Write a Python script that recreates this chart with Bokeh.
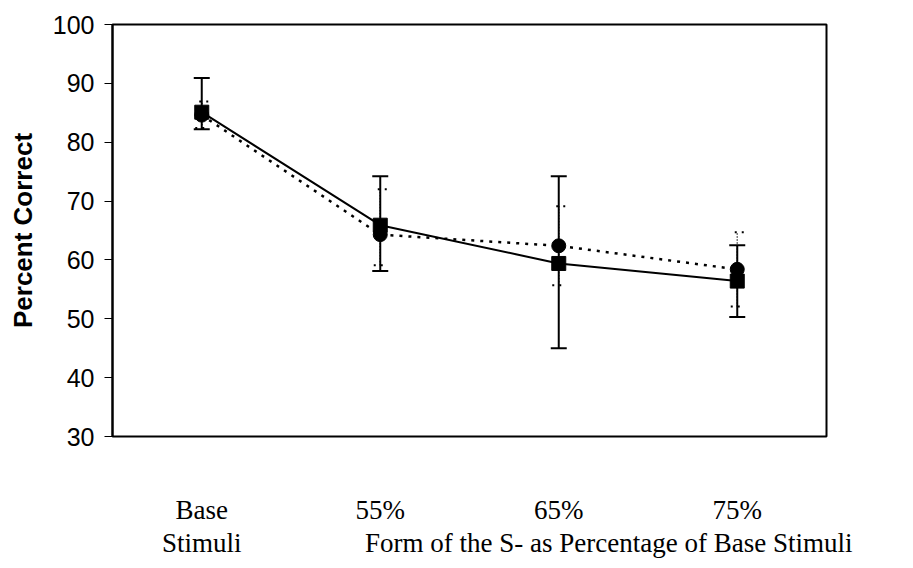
from bokeh.plotting import figure
from bokeh.models import Range1d, Whisker, TeeHead, ColumnDataSource, FixedTicker
from bokeh.embed import file_html
from bokeh.resources import INLINE

# ---- data ----
categories = ["Base\nStimuli", "55%", "65%", "75%"]
square_mean = [85.1, 65.9, 59.4, 56.4]
square_lower = [82.2, 58.1, 45.0, 50.3]
square_upper = [90.9, 74.2, 74.2, 62.5]
circle_mean = [84.6, 64.3, 62.4, 58.4]
circle_lower = [82.4, 59.1, 55.7, 52.1]
circle_upper = [86.9, 72.0, 69.1, 64.7]
y_ticks = [30, 40, 50, 60, 70, 80, 90, 100]
x_title = "Form of the S- as Percentage of Base Stimuli"
y_title = "Percent Correct"

# category slots on the x scale (one unit per category, centred)
xpos = [i + 0.5 for i in range(len(categories))]
x_title_pos = 2.78  # where the x title is centred along the axis

p = figure(width=905, height=560,
           x_range=Range1d(0, len(categories)),
           y_range=Range1d(30, 100),
           output_backend="svg", toolbar_location=None,
           min_border_left=112, min_border_right=79,
           min_border_top=24, min_border_bottom=115)
p.background_fill_color = "white"
p.border_fill_color = "white"
p.outline_line_color = "black"
p.outline_line_width = 2
p.outline_line_alpha = 1
p.xgrid.grid_line_color = None
p.ygrid.grid_line_color = None

# y axis
p.yaxis.ticker = FixedTicker(ticks=y_ticks)
p.yaxis.major_tick_out = 8
p.yaxis.major_tick_in = 0
p.yaxis.major_tick_line_color = "black"
p.yaxis.major_tick_line_width = 1
p.yaxis.minor_tick_line_color = None
p.yaxis.axis_line_color = "black"
p.yaxis.axis_line_width = 2
p.yaxis.major_label_text_font = "Liberation Sans"
p.yaxis.major_label_text_font_size = "25px"
p.yaxis.major_label_text_color = "black"
p.yaxis.major_label_standoff = 10
p.yaxis.axis_label = y_title
p.yaxis.axis_label_text_font = "Liberation Sans"
p.yaxis.axis_label_text_font_style = "bold"
p.yaxis.axis_label_text_font_size = "26px"
p.yaxis.axis_label_text_color = "black"
p.yaxis.axis_label_standoff = 12

# x axis: category labels plus the x title on its second line
overrides = {x: c for x, c in zip(xpos, categories)}
overrides[x_title_pos] = "\u00a0\n" + x_title
p.xaxis.ticker = FixedTicker(ticks=xpos + [x_title_pos])
p.xaxis.major_label_overrides = overrides
p.xaxis.axis_line_color = None
p.xaxis.major_tick_line_color = None
p.xaxis.minor_tick_line_color = None
p.xaxis.major_label_text_font = "Liberation Serif"
p.xaxis.major_label_text_font_size = "27px"
p.xaxis.major_label_text_line_height = 1.1
p.xaxis.major_label_text_color = "black"
p.xaxis.major_label_standoff = 52

# lines
p.line(xpos, circle_mean, line_color="black", line_width=2.5, line_dash="3 6")
p.line(xpos, square_mean, line_color="black", line_width=2)

# error bars
src_sq = ColumnDataSource(dict(x=xpos, lower=square_lower, upper=square_upper))
src_ci = ColumnDataSource(dict(x=xpos, lower=circle_lower, upper=circle_upper))

w_ci = Whisker(base="x", lower="lower", upper="upper", dimension="height", source=src_ci,
               line_color="black", line_width=1.5, line_dash="1 2",
               upper_head=TeeHead(size=13, line_color="black", line_width=2, line_dash="2 5"),
               lower_head=TeeHead(size=13, line_color="black", line_width=2, line_dash="2 5"),
               level="glyph")
w_sq = Whisker(base="x", lower="lower", upper="upper", dimension="height", source=src_sq,
               line_color="black", line_width=2,
               upper_head=TeeHead(size=16, line_color="black", line_width=2),
               lower_head=TeeHead(size=16, line_color="black", line_width=2),
               level="glyph")
p.add_layout(w_ci)
p.add_layout(w_sq)

# markers
p.scatter(xpos, circle_mean, marker="circle", size=14, fill_color="black", line_color="black")
p.scatter(xpos, square_mean, marker="square", size=14, fill_color="black", line_color="black")

open("out.html", "w").write(file_html(p, INLINE))
